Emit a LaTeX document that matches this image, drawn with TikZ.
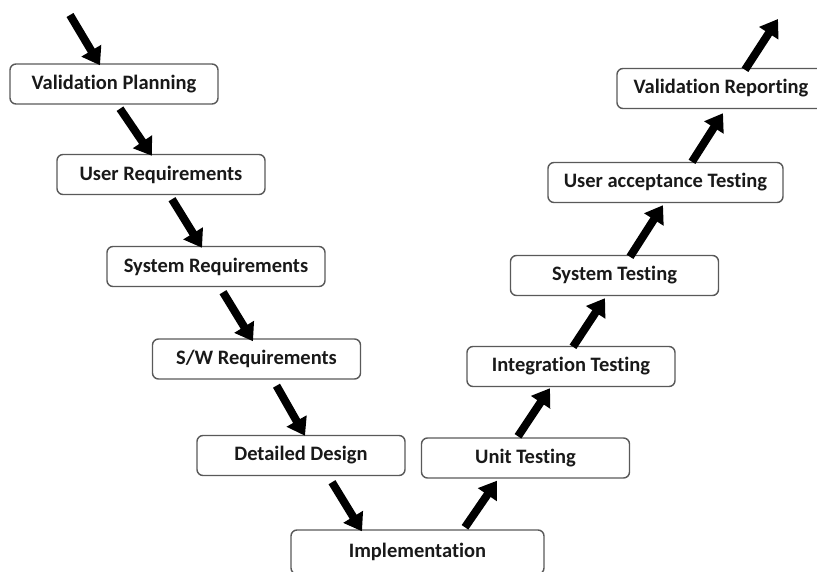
\documentclass[tikz,border=0pt]{standalone}
\usepackage{fontspec}
\setmainfont{Carlito}[RawFeature=-liga]
\usetikzlibrary{positioning}
\usetikzlibrary{arrows.meta}

\begin{document}
\begin{tikzpicture}[x=1pt, y=-1pt,
  box/.style = {shape=rectangle, draw=black!65, line width=1.4pt, rounded corners=6pt,
    minimum width=208pt, minimum height=40pt, text=black!90,
    font=\fontsize{20.5}{24}\selectfont\bfseries},
  flow/.style = {line width=8pt, -{Triangle[length=17pt,width=22pt]}}]
  \clip (0,0) rectangle (817,572);
  % left branch
  \node[box] (vp) at (114,84) {Validation Planning};
  \node[box] (ur) at (161,174.5) {User Requirements};
  \node[box, minimum width=218pt] (sr) at (216,266.5) {System Requirements};
  \node[box] (sw) at (256.5,359) {S/W Requirements};
  \node[box] (dd) at (301,455.5) {Detailed Design};
  \node[box, minimum width=253pt, minimum height=44pt] (impl) at (417.5,552) {Implementation};
  % right branch
  \node[box] (ut) at (525.5,458) {Unit Testing};
  \node[box] (intt) at (571,366.5) {Integration Testing};
  \node[box] (st) at (614.5,275.5) {System Testing};
  \node[box, minimum width=235pt] (uat) at (665.5,182.5) {User acceptance Testing};
  \node[box] (vr) at (721,88.5) {Validation Reporting};
  \coordinate (in) at (70,15);
  \coordinate (out) at (778,19);
  % arrows
  \draw[flow] (in) -- ([shift={(-14,2)}]vp.north);
  \draw[flow] ([shift={(6,4)}]vp.south) -- ([shift={(-9,2)}]ur.north);
  \draw[flow] ([shift={(11,4)}]ur.south) -- ([shift={(-14,2)}]sr.north);
  \draw[flow] ([shift={(7,5)}]sr.south) -- ([shift={(-3.5,3)}]sw.north);
  \draw[flow] ([shift={(20,6)}]sw.south) -- ([shift={(4,1)}]dd.north);
  \draw[flow] ([shift={(31,6)}]dd.south) -- ([shift={(-55.5,2)}]impl.north);
  \draw[flow] ([shift={(47.5,-2)}]impl.north) -- ([shift={(-28.5,2)}]ut.south);
  \draw[flow] ([shift={(-7.5,-1)}]ut.north) -- ([shift={(-21,1)}]intt.south);
  \draw[flow] ([shift={(2,1)}]intt.north) -- ([shift={(-9.5,2)}]st.south);
  \draw[flow] ([shift={(15.5,2)}]st.north) -- ([shift={(-2.5,2)}]uat.south);
  \draw[flow] ([shift={(26.5,0)}]uat.north) -- ([shift={(2,4)}]vr.south);
  \draw[flow] ([shift={(24,2)}]vr.north) -- (out);
\end{tikzpicture}
\end{document}
